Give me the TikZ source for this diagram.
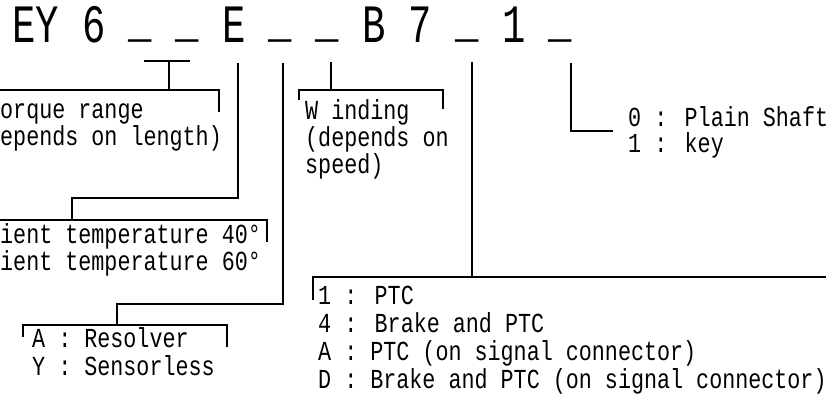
\documentclass[tikz,border=0pt]{standalone}
\usepackage{fontspec}
\newfontfamily\cadbig[FakeStretch=0.72]{Liberation Mono}
\newfontfamily\cadtext[FakeStretch=0.79]{Liberation Mono}
\newcommand\slot{\raisebox{.12em}{\_}}
\usetikzlibrary{positioning}

\begin{document}
\begin{tikzpicture}[x=1pt,y=-1pt,
  typecode/.style={inner sep=0pt,anchor=base west,text height=32pt,text depth=0pt,font=\cadbig\fontsize{54}{58}\selectfont},
  optline/.style={inner sep=0pt,anchor=base west,text height=18pt,text depth=5pt,font=\cadtext\fontsize{27.5}{30}\selectfont},
  lead/.style={line width=2.6pt}
]
\useasboundingbox (0,0) rectangle (826,393);

% type code
\node[typecode] (code) at (12,43) {EY 6 \slot\ \slot\ E \slot\ \slot\ B 7 \slot\ 1 \slot};

% torque range
\node[optline] (torque1) at (0,118) {orque range};
\node[optline] (torque2) at (0,145) {epends on length)};
\draw[lead] (144,61) -- (190,61);
\draw[lead] (169,61) -- (169,90);
\draw[lead] (0,90) -- (219,90) -- (219,112);

% ambient temperature
\node[optline] (amb1) at (0,243) {ient temperature 40°};
\node[optline] (amb2) at (0,270) {ient temperature 60°};
\draw[lead] (238,63) |- (72,198) -- (72,220);
\draw[lead] (0,220) -- (267,220) -- (267,242);

% feedback
\node[optline] (fb1) at (32,347) {A : Resolver};
\node[optline] (fb2) at (32,375) {Y : Sensorless};
\draw[lead] (283,63) |- (117,304) -- (117,325);
\draw[lead] (23,337) -- (23,325) -- (227,325) -- (227,347);

% winding
\node[optline] (wind1) at (305,119) {W inding};
\node[optline] (wind2) at (305,146) {(depends on};
\node[optline] (wind3) at (305,173) {speed)};
\draw[lead] (331,62) -- (331,90);
\draw[lead] (299,100) -- (299,90) -- (443,90) -- (443,109);

% shaft
\node[optline] (shaft1) at (628,126) {0 : Plain Shaft};
\node[optline] (shaft2) at (628,152) {1 : key};
\draw[lead] (571,63) |- (613,131);

% brake and sensor options
\node[optline] (opt1) at (318,304) {1 : PTC};
\node[optline] (opt2) at (318,332) {4 : Brake and PTC};
\node[optline] (opt3) at (318,360) {A : PTC (on signal connector)};
\node[optline] (opt4) at (318,388) {D : Brake and PTC (on signal connector)};
\draw[lead] (472,62) -- (472,277);
\draw[lead] (313,300) -- (313,277) -- (826,277);
\end{tikzpicture}
\end{document}
